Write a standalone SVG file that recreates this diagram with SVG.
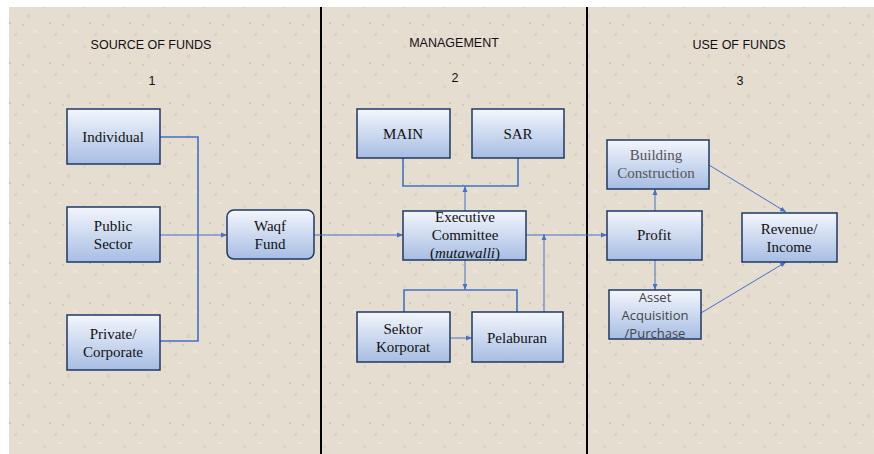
<svg xmlns="http://www.w3.org/2000/svg" width="874" height="454" viewBox="0 0 874 454">
<defs>
<linearGradient id="nodeGrad" x1="0" y1="0" x2="0" y2="1">
<stop offset="0" stop-color="#f3f6fc"/>
<stop offset="1" stop-color="#a7bde3"/>
</linearGradient>
<pattern id="tex" width="40" height="40" patternUnits="userSpaceOnUse">
<rect width="40" height="40" fill="#e6ddd1"/>
<rect x="3" y="5" width="3" height="3" fill="#ddd3c6"/>
<rect x="18" y="2" width="4" height="2" fill="#ece4d9"/>
<rect x="27" y="14" width="3" height="4" fill="#dcd2c4"/>
<rect x="9" y="22" width="2" height="2" fill="#cfc5b7"/>
<rect x="33" y="30" width="4" height="3" fill="#ebe3d8"/>
<rect x="14" y="33" width="3" height="3" fill="#ddd3c5"/>
<rect x="22" y="24" width="2" height="2" fill="#d3c9bb"/>
</pattern>
<marker id="arr" viewBox="0 0 10 10" refX="10" refY="5" markerWidth="6" markerHeight="6" orient="auto" markerUnits="userSpaceOnUse">
<path d="M0,1 L10,5 L0,9 z" fill="#4472c4"/>
</marker>
<style>
.node{fill:url(#nodeGrad);stroke:#1f3864;stroke-width:1.5}
.t{font-family:"Liberation Serif","Times New Roman",serif;font-size:15px;fill:#111;text-anchor:middle}
.tg{font-family:"Liberation Serif","Times New Roman",serif;font-size:15px;fill:#555;text-anchor:middle}
.ts{font-family:"Open Sans","Liberation Sans",sans-serif;font-size:13px;fill:#444;text-anchor:middle}
.h{font-family:"Liberation Sans",Arial,sans-serif;font-size:12.5px;fill:#111;text-anchor:middle}
.c{fill:none;stroke:#4472c4;stroke-width:1}
.cb{fill:none;stroke:#4472c4;stroke-width:1.6}
.div{stroke:#000;stroke-width:2}
</style>
</defs>
<rect x="9" y="7" width="865" height="447" fill="url(#tex)"/>
<line class="div" x1="321" y1="7" x2="321" y2="454"/>
<line class="div" x1="587" y1="7" x2="587" y2="454"/>
<g id="headings">
<text class="h" x="151" y="49">SOURCE OF FUNDS</text>
<text class="h" x="152" y="85">1</text>
<text class="h" x="454" y="47">MANAGEMENT</text>
<text class="h" x="455" y="82">2</text>
<text class="h" x="739" y="49">USE OF FUNDS</text>
<text class="h" x="740" y="85">3</text>
</g>
<g id="connectors">
<polyline class="cb" points="160,137 198,137 198,341 160,341"/>
<line class="c" x1="160" y1="235" x2="227" y2="235" marker-end="url(#arr)"/>
<line class="c" x1="314" y1="235" x2="403" y2="235" marker-end="url(#arr)"/>
<polyline class="cb" points="403,158 403,186 518,186 518,158"/>
<line class="c" x1="465" y1="211" x2="465" y2="186" marker-end="url(#arr)"/>
<line class="c" x1="465" y1="260" x2="465" y2="290" marker-end="url(#arr)"/>
<polyline class="cb" points="404,312 404,290 517,290 517,312"/>
<line class="c" x1="450" y1="338" x2="472" y2="338" marker-end="url(#arr)"/>
<line class="c" x1="544" y1="312" x2="544" y2="234" marker-end="url(#arr)"/>
<line class="c" x1="526" y1="235" x2="607" y2="235" marker-end="url(#arr)"/>
<line class="c" x1="655" y1="211" x2="655" y2="189" marker-end="url(#arr)"/>
<line class="c" x1="655" y1="260" x2="655" y2="290" marker-end="url(#arr)"/>
<line class="c" x1="709" y1="165" x2="786" y2="212" marker-end="url(#arr)"/>
<line class="c" x1="701" y1="313" x2="786" y2="262" marker-end="url(#arr)"/>
</g>
<g id="individual"><rect class="node" x="67" y="109" width="93" height="55"/><text class="t" x="113" y="142">Individual</text></g>
<g id="public-sector"><rect class="node" x="67" y="207" width="93" height="55"/><text class="t" x="113" y="231">Public</text><text class="t" x="113" y="249">Sector</text></g>
<g id="private-corporate"><rect class="node" x="67" y="315" width="93" height="55"/><text class="t" x="113" y="339">Private/</text><text class="t" x="113" y="357">Corporate</text></g>
<g id="waqf-fund"><rect class="node" x="227" y="210" width="87" height="49" rx="7"/><text class="t" x="270" y="231">Waqf</text><text class="t" x="270" y="249">Fund</text></g>
<g id="main"><rect class="node" x="357" y="109" width="93" height="49"/><text class="t" x="403" y="139">MAIN</text></g>
<g id="sar"><rect class="node" x="472" y="109" width="92" height="49"/><text class="t" x="518" y="139">SAR</text></g>
<g id="executive"><rect class="node" x="403" y="211" width="123" height="49"/><text class="t" x="465" y="222">Executive</text><text class="t" x="465" y="240">Committee</text><text class="t" x="465" y="258">(<tspan font-style="italic">mutawalli</tspan>)</text></g>
<g id="sektor-korporat"><rect class="node" x="357" y="312" width="93" height="50"/><text class="t" x="403" y="334">Sektor</text><text class="t" x="403" y="352">Korporat</text></g>
<g id="pelaburan"><rect class="node" x="472" y="312" width="91" height="50"/><text class="t" x="517" y="343">Pelaburan</text></g>
<g id="building"><rect class="node" x="607" y="140" width="102" height="49"/><text class="tg" x="656" y="160">Building</text><text class="tg" x="656" y="178">Construction</text></g>
<g id="profit"><rect class="node" x="607" y="211" width="95" height="49"/><text class="t" x="654" y="240">Profit</text></g>
<g id="asset"><rect class="node" x="609" y="290" width="92" height="49"/><text class="ts" x="655" y="302">Asset</text><text class="ts" x="655" y="320">Acquisition</text><text class="ts" x="655" y="338">/Purchase</text></g>
<g id="revenue"><rect class="node" x="742" y="213" width="95" height="49"/><text class="t" x="789" y="234">Revenue/</text><text class="t" x="789" y="252">Income</text></g>
</svg>
